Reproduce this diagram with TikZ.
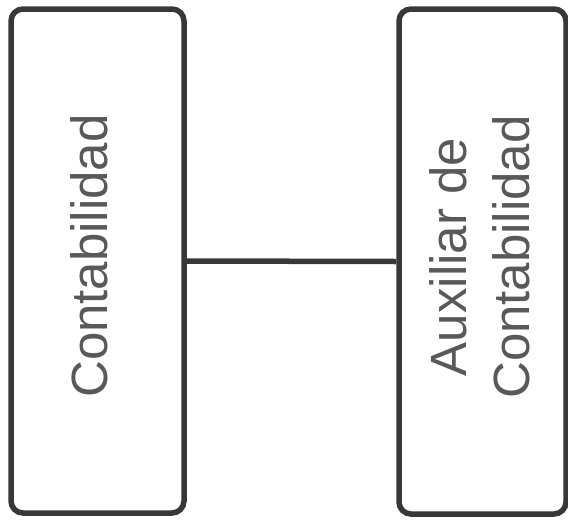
\documentclass[tikz,border=0pt]{standalone}
\usepackage{fontspec}
\setmainfont{Liberation Sans}
\usepackage{tikz}
\usetikzlibrary{positioning}
\usepackage{xcolor}

\begin{document}
\begin{tikzpicture}[x=1pt, y=-1pt,
  unit/.style={rectangle, draw=black!78, line width=5.5pt,
               rounded corners=12pt, fill=white},
  lbl/.style={rotate=90, text=black!65, align=center, inner sep=0pt,
              font=\fontsize{51}{63}\selectfont},
  link/.style={draw=black!78, line width=5.5pt}
]
\useasboundingbox (0,0) rectangle (568,520);

\node[unit, minimum width=173pt, minimum height=504pt] (conta) at (97.5,261) {};
\node[unit, minimum width=167pt, minimum height=505pt] (aux)   at (482.5,261.5) {};

\node[lbl] (contaT) at (89,256)  {Contabilidad};
\node[lbl] (auxT)   at (480,257) {Auxiliar de\\Contabilidad};

\draw[link] (conta.east) -- (aux.west);

\end{tikzpicture}
\end{document}
